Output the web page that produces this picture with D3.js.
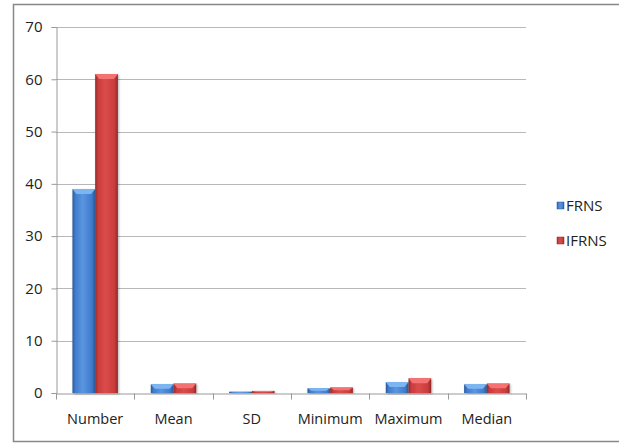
<!DOCTYPE html>
<html>
<head>
<meta charset="utf-8">
<script src="https://cdn.jsdelivr.net/npm/d3@7"></script>
<style>
  body { margin: 0; background: #fff; }
  text { font-family: "Open Sans", "Liberation Sans", sans-serif; fill: #222; }
</style>
</head>
<body>
<div id="chart"></div>
<script>
const categories = ["Number", "Mean", "SD", "Minimum", "Maximum", "Median"];
const seriesNames = ["FRNS", "IFRNS"];
const frns = [39, 1.65, 0.25, 0.9, 2.1, 1.65];
const ifrns = [61, 1.8, 0.4, 1.05, 2.8, 1.8];
const yTicks = [0, 10, 20, 30, 40, 50, 60, 70];

const width = 619;
const height = 443;
const margin = { top: 27, right: 93, bottom: 50, left: 56 };
const chartWidth = width - margin.left - margin.right;
const chartHeight = height - margin.top - margin.bottom;

const colors = {
  FRNS: { light: "#5a95e0", mid: "#3f7ccc", dark: "#2b5796", top: "#7cb6f2" },
  IFRNS: { light: "#dc4c4c", mid: "#c83c3c", dark: "#922828", top: "#f47272" }
};

const table = categories.map((c, i) => ({ cat: c, FRNS: frns[i], IFRNS: ifrns[i] }));

const svg = d3.select("#chart")
  .append("svg")
  .attr("width", width)
  .attr("height", height);

// outer frame
svg.append("rect")
  .attr("x", 13.5).attr("y", 4.5)
  .attr("width", 640).attr("height", 437)
  .attr("fill", "none")
  .attr("stroke", "#888")
  .attr("stroke-width", 1.5);

const defs = svg.append("defs");
seriesNames.forEach(s => {
  const gr = defs.append("linearGradient")
    .attr("id", "grad-" + s)
    .attr("x1", "0%").attr("x2", "100%").attr("y1", "0%").attr("y2", "0%");
  gr.append("stop").attr("offset", "0%").attr("stop-color", colors[s].dark);
  gr.append("stop").attr("offset", "12%").attr("stop-color", colors[s].mid);
  gr.append("stop").attr("offset", "45%").attr("stop-color", colors[s].light);
  gr.append("stop").attr("offset", "85%").attr("stop-color", colors[s].mid);
  gr.append("stop").attr("offset", "100%").attr("stop-color", colors[s].dark);
});
const shadow = defs.append("filter").attr("id", "shadow")
  .attr("x", "-20%").attr("y", "-5%").attr("width", "150%").attr("height", "115%");
shadow.append("feDropShadow")
  .attr("dx", 1).attr("dy", 1).attr("stdDeviation", 1)
  .attr("flood-color", "#000").attr("flood-opacity", 0.3);

const g = svg.append("g")
  .attr("transform", `translate(${margin.left},${margin.top})`);

const x = d3.scaleBand()
  .domain(categories)
  .range([0, chartWidth]);

const x1 = d3.scaleBand()
  .domain(seriesNames)
  .range([x.bandwidth() * 0.21, x.bandwidth() * 0.79]);

const y = d3.scaleLinear()
  .domain([0, 70])
  .range([chartHeight, 0]);

// gridlines
g.append("g")
  .selectAll("line")
  .data(yTicks.filter(t => t > 0))
  .enter()
  .append("line")
  .attr("x1", 0).attr("x2", chartWidth)
  .attr("y1", d => Math.round(y(d)) + 0.5)
  .attr("y2", d => Math.round(y(d)) + 0.5)
  .attr("stroke", "#b8b8b8");

// y axis
const yAxis = d3.axisLeft(y).tickValues(yTicks).tickSize(5).tickPadding(9);
const ya = g.append("g").attr("transform", "translate(0.5,0)").call(yAxis);
ya.select(".domain").attr("stroke", "#999");
ya.selectAll(".tick line").attr("stroke", "#999");
ya.selectAll("text").attr("font-size", "15px").attr("fill", "#222");

// x axis
const xAxis = d3.axisBottom(x).tickSizeOuter(0).tickSize(0).tickPadding(20);
const xa = g.append("g").attr("transform", `translate(0,${chartHeight + 0.5})`).call(xAxis);
xa.select(".domain").attr("stroke", "#999");
xa.selectAll("text").attr("font-size", "14.5px").attr("fill", "#222");
xa.selectAll(".sep")
  .data(d3.range(categories.length + 1))
  .enter()
  .append("line")
  .attr("class", "sep")
  .attr("x1", i => Math.round(i * x.step()) + 0.5)
  .attr("x2", i => Math.round(i * x.step()) + 0.5)
  .attr("y1", 0).attr("y2", 6)
  .attr("stroke", "#999");

// bars
const groups = g.selectAll(".grp")
  .data(table)
  .enter()
  .append("g")
  .attr("class", "grp")
  .attr("transform", d => `translate(${x(d.cat)},0)`);

const bars = groups.selectAll(".bar")
  .data(d => seriesNames.map(s => ({ s, v: d[s] })))
  .enter()
  .append("g")
  .attr("class", "bar")
  .attr("filter", "url(#shadow)");

bars.append("rect")
  .attr("x", d => x1(d.s))
  .attr("y", d => y(d.v))
  .attr("width", x1.bandwidth())
  .attr("height", d => chartHeight - y(d.v))
  .attr("fill", d => `url(#grad-${d.s})`);

// top bevel
bars.append("path")
  .attr("d", d => {
    const x0 = x1(d.s), w = x1.bandwidth(), yt = y(d.v);
    const h = Math.min(5, (chartHeight - yt) / 2);
    const inset = Math.min(4, w / 5);
    return `M${x0},${yt}L${x0 + w},${yt}L${x0 + w - inset},${yt + h}L${x0 + inset},${yt + h}Z`;
  })
  .attr("fill", d => colors[d.s].top);

// legend
const legend = svg.append("g")
  .selectAll("g")
  .data(seriesNames)
  .enter()
  .append("g")
  .attr("transform", (d, i) => `translate(557,${202 + i * 35})`);

legend.append("rect")
  .attr("width", 7).attr("height", 7)
  .attr("fill", d => `url(#grad-${d})`)
  .attr("stroke", d => colors[d].dark)
  .attr("stroke-width", 0.5);

legend.append("text")
  .attr("x", 9)
  .attr("y", 4)
  .attr("dy", "0.35em")
  .attr("font-size", "15px")
  .text(d => d);
</script>
</body>
</html>
